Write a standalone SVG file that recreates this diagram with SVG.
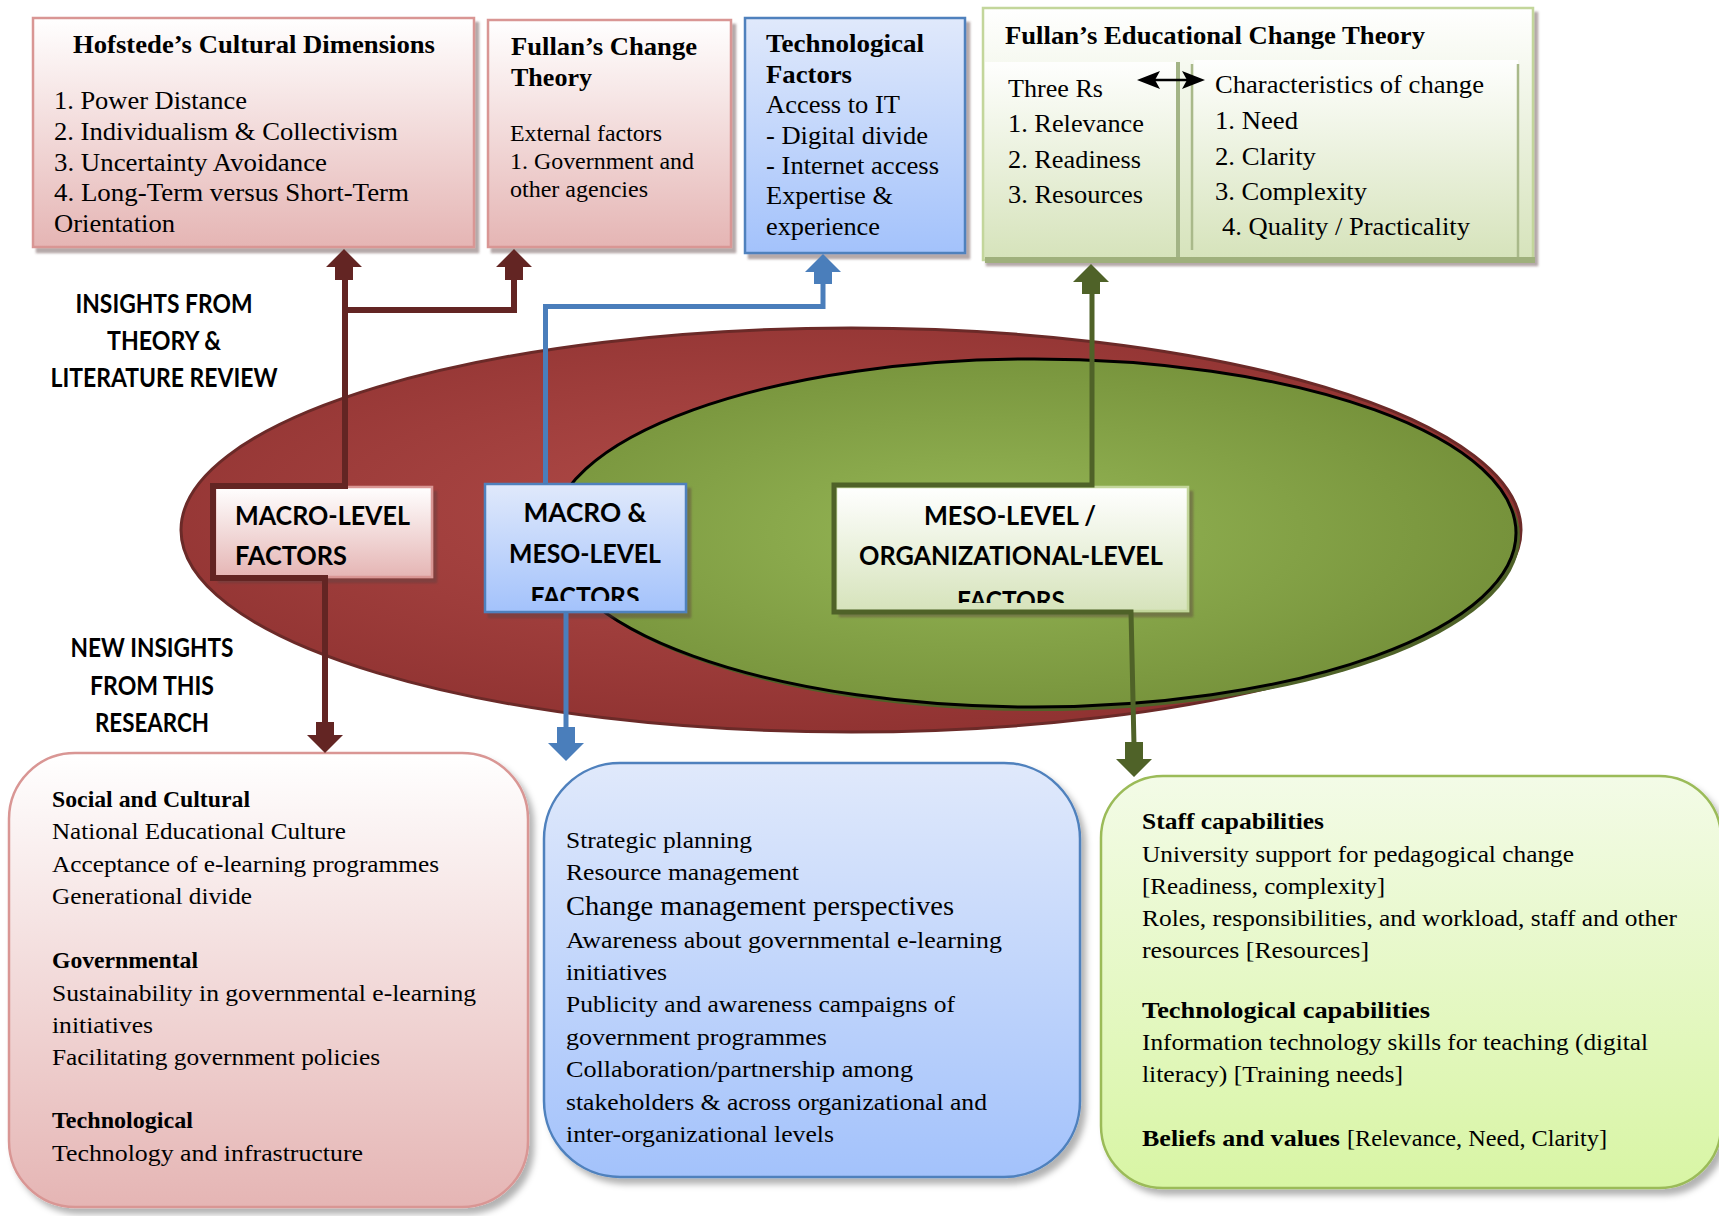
<svg xmlns="http://www.w3.org/2000/svg" width="1719" height="1216" viewBox="0 0 1719 1216">
<defs>
  <linearGradient id="gPink" x1="0" y1="0" x2="0" y2="1"><stop offset="0" stop-color="#ffffff"/><stop offset="1" stop-color="#e5b5b4"/></linearGradient>
  <linearGradient id="gBlue" x1="0" y1="0" x2="0" y2="1"><stop offset="0" stop-color="#e0e9fb"/><stop offset="1" stop-color="#a3c2fb"/></linearGradient>
  <linearGradient id="gGreen" x1="0" y1="0" x2="0" y2="1"><stop offset="0" stop-color="#ffffff"/><stop offset="1" stop-color="#d6e3bb"/></linearGradient>
  <linearGradient id="gLime" x1="0" y1="0" x2="0" y2="1"><stop offset="0" stop-color="#f3fbe7"/><stop offset="1" stop-color="#d8f5a4"/></linearGradient>
  <radialGradient id="gRed" cx="0.45" cy="0.45" r="0.6"><stop offset="0" stop-color="#b24c49"/><stop offset="1" stop-color="#8e3130"/></radialGradient>
  <radialGradient id="gOlive" cx="0.45" cy="0.5" r="0.55"><stop offset="0" stop-color="#96b756"/><stop offset="1" stop-color="#76923b"/></radialGradient>
  <filter id="shTop" x="-5%" y="-5%" width="115%" height="120%"><feDropShadow dx="4" dy="5" stdDeviation="1" flood-color="#5a4040" flood-opacity="0.45"/></filter>
  <filter id="shBot" x="-5%" y="-5%" width="115%" height="115%"><feDropShadow dx="5" dy="6" stdDeviation="3" flood-color="#000" flood-opacity="0.3"/></filter>
  <clipPath id="clipBlue"><rect x="485" y="484" width="202" height="117"/></clipPath>
  <clipPath id="clipMeso"><rect x="836" y="487" width="352" height="116"/></clipPath>
  <style>
    .t{font-family:"Liberation Serif","Times New Roman",serif;font-size:26px;fill:#000}
    .tb{font-weight:bold}
    .s24{font-size:24px}
    .cap{font-family:Lato,"Open Sans",sans-serif;font-weight:bold;font-size:26px;fill:#000}
    .pinkbox{fill:url(#gPink);stroke:#d99694;stroke-width:2.5}
    .bluebox{fill:url(#gBlue);stroke:#4f81bd;stroke-width:2.5}
    .greenbox{fill:url(#gGreen);stroke:#c3d69b;stroke-width:2.5}
    .limebox{fill:url(#gLime);stroke:#9bbb59;stroke-width:2.5}
    .dr{fill:none;stroke:#632523;stroke-width:6}
    .bl{fill:none;stroke:#4a7ebb;stroke-width:5}
    .gr{fill:none;stroke:#4f6228;stroke-width:5}
  </style>
</defs>
<rect width="1719" height="1216" fill="#ffffff"/>

<!-- Ellipses -->
<g id="ellipses">
  <ellipse id="macro-ellipse" cx="851" cy="530" rx="670" ry="202" fill="url(#gRed)" stroke="#6b2a28" stroke-width="3"/>
  <ellipse cx="1038" cy="537" rx="482" ry="174" fill="#4f6228"/>
  <ellipse id="meso-ellipse" cx="1034" cy="533" rx="482" ry="174" fill="url(#gOlive)" stroke="#000" stroke-width="3"/>
</g>

<!-- Side labels -->
<g id="label-insights-theory">
  <text class="cap" x="164" y="313" text-anchor="middle" textLength="177" lengthAdjust="spacingAndGlyphs">INSIGHTS FROM</text>
  <text class="cap" x="164" y="350" text-anchor="middle" textLength="114" lengthAdjust="spacingAndGlyphs">THEORY &amp;</text>
  <text class="cap" x="164" y="387" text-anchor="middle" textLength="227" lengthAdjust="spacingAndGlyphs">LITERATURE REVIEW</text>
</g>
<g id="label-new-insights">
  <text class="cap" x="152" y="657" text-anchor="middle" textLength="163" lengthAdjust="spacingAndGlyphs">NEW INSIGHTS</text>
  <text class="cap" x="152" y="695" text-anchor="middle" textLength="124" lengthAdjust="spacingAndGlyphs">FROM THIS</text>
  <text class="cap" x="152" y="732" text-anchor="middle" textLength="114" lengthAdjust="spacingAndGlyphs">RESEARCH</text>
</g>

<!-- Top boxes -->
<g id="hofstede">
  <rect class="pinkbox" x="33" y="18" width="441" height="229" filter="url(#shTop)"/>
  <text class="t tb" x="254" y="53" text-anchor="middle" textLength="362" lengthAdjust="spacingAndGlyphs">Hofstede’s Cultural Dimensions</text>
  <text class="t" x="54" y="109" textLength="193" lengthAdjust="spacingAndGlyphs">1. Power Distance</text>
  <text class="t" x="54" y="140" textLength="344" lengthAdjust="spacingAndGlyphs">2. Individualism &amp; Collectivism</text>
  <text class="t" x="54" y="171" textLength="273" lengthAdjust="spacingAndGlyphs">3. Uncertainty Avoidance</text>
  <text class="t" x="54" y="201" textLength="355" lengthAdjust="spacingAndGlyphs">4. Long-Term versus Short-Term</text>
  <text class="t" x="54" y="232" textLength="121" lengthAdjust="spacingAndGlyphs">Orientation</text>
</g>
<g id="fullan-change">
  <rect class="pinkbox" x="488" y="20" width="243" height="227" filter="url(#shTop)"/>
  <text class="t tb" x="511" y="55" textLength="186" lengthAdjust="spacingAndGlyphs">Fullan’s Change</text>
  <text class="t tb" x="511" y="86" textLength="81" lengthAdjust="spacingAndGlyphs">Theory</text>
  <text class="t s24" x="510" y="141" textLength="152" lengthAdjust="spacingAndGlyphs">External factors</text>
  <text class="t s24" x="510" y="169" textLength="184" lengthAdjust="spacingAndGlyphs">1. Government and</text>
  <text class="t s24" x="510" y="197" textLength="138" lengthAdjust="spacingAndGlyphs">other agencies</text>
</g>
<g id="technological-factors">
  <rect class="bluebox" x="745" y="18" width="220" height="235" filter="url(#shTop)"/>
  <text class="t tb" x="766" y="52" textLength="158" lengthAdjust="spacingAndGlyphs">Technological</text>
  <text class="t tb" x="766" y="83" textLength="86" lengthAdjust="spacingAndGlyphs">Factors</text>
  <text class="t" x="766" y="113" textLength="134" lengthAdjust="spacingAndGlyphs">Access to IT</text>
  <text class="t" x="766" y="144" textLength="162" lengthAdjust="spacingAndGlyphs">- Digital divide</text>
  <text class="t" x="766" y="174" textLength="173" lengthAdjust="spacingAndGlyphs">- Internet access</text>
  <text class="t" x="766" y="204" textLength="127" lengthAdjust="spacingAndGlyphs">Expertise &amp;</text>
  <text class="t" x="766" y="235" textLength="114" lengthAdjust="spacingAndGlyphs">experience</text>
</g>
<g id="fullan-educational">
  <rect class="greenbox" x="983" y="8" width="550" height="252" filter="url(#shTop)"/>
  <rect x="985" y="62" width="192" height="196" fill="url(#gGreen)" opacity="0.9"/>
  <rect x="1176" y="62" width="4" height="200" fill="#a3b486"/>
  <rect x="1194" y="60" width="324" height="198" fill="url(#gGreen)" opacity="0.9"/>
  <line x1="1192" y1="64" x2="1192" y2="250" stroke="#a9b98a" stroke-width="2.5"/>
  <line x1="1518" y1="64" x2="1518" y2="258" stroke="#a9b98a" stroke-width="2.5"/>
  <rect x="985" y="257" width="550" height="6" fill="#9fb07c"/>
  <text class="t tb" x="1005" y="44" textLength="420" lengthAdjust="spacingAndGlyphs">Fullan’s Educational Change Theory</text>
  <text class="t" x="1008" y="97" textLength="95" lengthAdjust="spacingAndGlyphs">Three Rs</text>
  <text class="t" x="1008" y="132" textLength="136" lengthAdjust="spacingAndGlyphs">1. Relevance</text>
  <text class="t" x="1008" y="168" textLength="133" lengthAdjust="spacingAndGlyphs">2. Readiness</text>
  <text class="t" x="1008" y="203" textLength="135" lengthAdjust="spacingAndGlyphs">3. Resources</text>
  <text class="t" x="1215" y="93" textLength="269" lengthAdjust="spacingAndGlyphs">Characteristics of change</text>
  <text class="t" x="1215" y="129" textLength="83" lengthAdjust="spacingAndGlyphs">1. Need</text>
  <text class="t" x="1215" y="165" textLength="101" lengthAdjust="spacingAndGlyphs">2. Clarity</text>
  <text class="t" x="1215" y="200" textLength="152" lengthAdjust="spacingAndGlyphs">3. Complexity</text>
  <text class="t" x="1222" y="235" textLength="248" lengthAdjust="spacingAndGlyphs">4. Quality / Practicality</text>
  <g id="three-rs-link">
    <line x1="1150" y1="80" x2="1192" y2="80" stroke="#000" stroke-width="2.5"/>
    <polygon points="1137,80 1160,71 1155,80 1160,89" fill="#000"/>
    <polygon points="1205,80 1182,71 1187,80 1182,89" fill="#000"/>
  </g>
</g>

<!-- Middle level boxes -->
<g id="macro-level">
  <rect class="pinkbox" x="215" y="487" width="217" height="90" filter="url(#shTop)"/>
  <text class="cap" x="235" y="525" textLength="175" lengthAdjust="spacingAndGlyphs">MACRO-LEVEL</text>
  <text class="cap" x="235" y="565" textLength="112" lengthAdjust="spacingAndGlyphs">FACTORS</text>
</g>
<g id="macro-meso-level">
  <rect class="bluebox" x="485" y="484" width="201" height="128" filter="url(#shTop)"/>
  <g clip-path="url(#clipBlue)">
    <text class="cap" x="585" y="522" text-anchor="middle" textLength="123" lengthAdjust="spacingAndGlyphs">MACRO &amp;</text>
    <text class="cap" x="585" y="563" text-anchor="middle" textLength="152" lengthAdjust="spacingAndGlyphs">MESO-LEVEL</text>
    <text class="cap" x="585" y="606" text-anchor="middle" textLength="109" lengthAdjust="spacingAndGlyphs">FACTORS</text>
  </g>
</g>
<g id="meso-level">
  <rect class="greenbox" x="836" y="487" width="352" height="124" filter="url(#shTop)"/>
  <g clip-path="url(#clipMeso)">
    <text class="cap" x="1010" y="525" text-anchor="middle" textLength="172" lengthAdjust="spacingAndGlyphs">MESO-LEVEL /</text>
    <text class="cap" x="1011" y="565" text-anchor="middle" textLength="304" lengthAdjust="spacingAndGlyphs">ORGANIZATIONAL-LEVEL</text>
    <text class="cap" x="1011" y="610" text-anchor="middle" textLength="108" lengthAdjust="spacingAndGlyphs">FACTORS</text>
  </g>
</g>

<!-- Bottom boxes -->
<g id="macro-insights">
  <rect class="pinkbox" x="9" y="753" width="519" height="454" rx="66" ry="66" filter="url(#shBot)"/>
  <text class="t tb s24" x="52" y="807" textLength="198" lengthAdjust="spacingAndGlyphs">Social and Cultural</text>
  <text class="t s24" x="52" y="839" textLength="294" lengthAdjust="spacingAndGlyphs">National Educational Culture</text>
  <text class="t s24" x="52" y="872" textLength="387" lengthAdjust="spacingAndGlyphs">Acceptance of e-learning programmes</text>
  <text class="t s24" x="52" y="904" textLength="200" lengthAdjust="spacingAndGlyphs">Generational divide</text>
  <text class="t tb s24" x="52" y="968" textLength="146" lengthAdjust="spacingAndGlyphs">Governmental</text>
  <text class="t s24" x="52" y="1001" textLength="424" lengthAdjust="spacingAndGlyphs">Sustainability in governmental e-learning</text>
  <text class="t s24" x="52" y="1033" textLength="101" lengthAdjust="spacingAndGlyphs">initiatives</text>
  <text class="t s24" x="52" y="1065" textLength="328" lengthAdjust="spacingAndGlyphs">Facilitating government policies</text>
  <text class="t tb s24" x="52" y="1128" textLength="141" lengthAdjust="spacingAndGlyphs">Technological</text>
  <text class="t s24" x="52" y="1161" textLength="311" lengthAdjust="spacingAndGlyphs">Technology and infrastructure</text>
</g>
<g id="macro-meso-insights">
  <rect class="bluebox" x="544" y="763" width="536" height="414" rx="76" ry="76" filter="url(#shBot)"/>
  <text class="t s24" x="566" y="848" textLength="186" lengthAdjust="spacingAndGlyphs">Strategic planning</text>
  <text class="t s24" x="566" y="880" textLength="233" lengthAdjust="spacingAndGlyphs">Resource management</text>
  <text class="t" x="566" y="915" style="font-size:27px" textLength="388" lengthAdjust="spacingAndGlyphs">Change management perspectives</text>
  <text class="t s24" x="566" y="948" textLength="436" lengthAdjust="spacingAndGlyphs">Awareness about governmental e-learning</text>
  <text class="t s24" x="566" y="980" textLength="101" lengthAdjust="spacingAndGlyphs">initiatives</text>
  <text class="t s24" x="566" y="1012" textLength="389" lengthAdjust="spacingAndGlyphs">Publicity and awareness campaigns of</text>
  <text class="t s24" x="566" y="1045" textLength="261" lengthAdjust="spacingAndGlyphs">government programmes</text>
  <text class="t s24" x="566" y="1077" textLength="347" lengthAdjust="spacingAndGlyphs">Collaboration/partnership among</text>
  <text class="t s24" x="566" y="1110" textLength="421" lengthAdjust="spacingAndGlyphs">stakeholders &amp; across organizational and</text>
  <text class="t s24" x="566" y="1142" textLength="268" lengthAdjust="spacingAndGlyphs">inter-organizational levels</text>
</g>
<g id="meso-insights">
  <rect class="limebox" x="1101" y="776" width="620" height="412" rx="62" ry="62" filter="url(#shBot)"/>
  <text class="t tb s24" x="1142" y="829" textLength="182" lengthAdjust="spacingAndGlyphs">Staff capabilities</text>
  <text class="t s24" x="1142" y="862" textLength="432" lengthAdjust="spacingAndGlyphs">University support for pedagogical change</text>
  <text class="t s24" x="1142" y="894" textLength="243" lengthAdjust="spacingAndGlyphs">[Readiness, complexity]</text>
  <text class="t s24" x="1142" y="926" textLength="535" lengthAdjust="spacingAndGlyphs">Roles, responsibilities, and workload, staff and other</text>
  <text class="t s24" x="1142" y="958" textLength="227" lengthAdjust="spacingAndGlyphs">resources [Resources]</text>
  <text class="t tb s24" x="1142" y="1018" textLength="288" lengthAdjust="spacingAndGlyphs">Technological capabilities</text>
  <text class="t s24" x="1142" y="1050" textLength="506" lengthAdjust="spacingAndGlyphs">Information technology skills for teaching (digital</text>
  <text class="t s24" x="1142" y="1082" textLength="261" lengthAdjust="spacingAndGlyphs">literacy) [Training needs]</text>
  <text class="t tb s24" x="1142" y="1146" textLength="198" lengthAdjust="spacingAndGlyphs">Beliefs and values</text>
  <text class="t s24" x="1347" y="1146" textLength="260" lengthAdjust="spacingAndGlyphs">[Relevance, Need, Clarity]</text>
</g>

<!-- Connectors -->
<g id="connectors">
  <g id="conn-macro">
    <path class="dr" d="M345,279 V486 H213 V578 H325 V725"/>
    <path class="dr" d="M514,279 V310 H342"/>
    <polygon points="344,249 362,267 353,267 353,280 335,280 335,267 326,267" fill="#632523"/>
    <polygon points="514,249 532,267 523,267 523,280 505,280 505,267 496,267" fill="#632523"/>
    <polygon points="325,753 307,735 316,735 316,722 334,722 334,735 343,735" fill="#632523"/>
  </g>
  <g id="conn-macro-meso">
    <path class="bl" d="M545.5,484 V306.5 H823 V282"/>
    <path class="bl" d="M566,612 V730"/>
    <polygon points="823,254 841,272 832,272 832,284 814,284 814,272 805,272" fill="#4a7ebb"/>
    <polygon points="566,761 548,743 557,743 557,727 575,727 575,743 584,743" fill="#4a7ebb"/>
  </g>
  <g id="conn-meso">
    <path class="gr" d="M1092,293 V485 H834 V612 H1131 L1134,745"/>
    <polygon points="1091,264 1109,282 1100,282 1100,294 1082,294 1082,282 1073,282" fill="#4f6228"/>
    <polygon points="1134,777 1116,759 1125,759 1125,742 1143,742 1143,759 1152,759" fill="#4f6228"/>
  </g>
</g>
</svg>
